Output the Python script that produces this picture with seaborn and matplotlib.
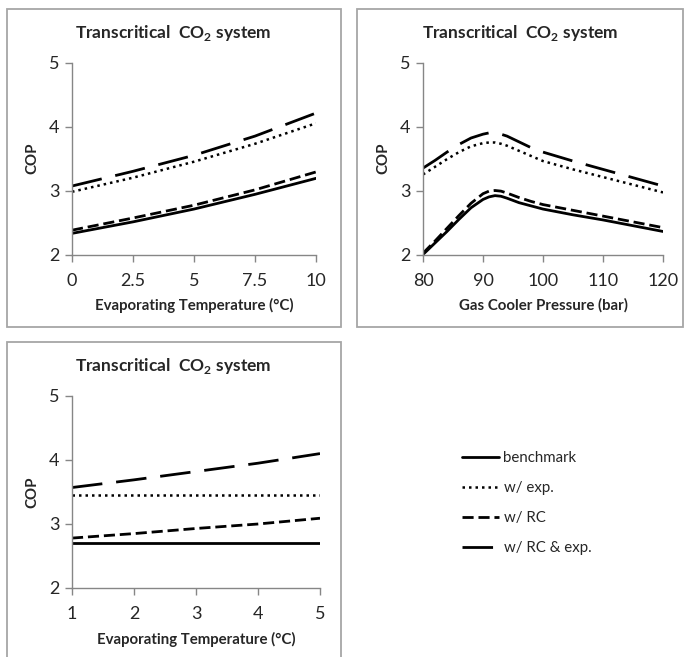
import numpy as np
import pandas as pd
import matplotlib
matplotlib.use("Agg")
import matplotlib.pyplot as plt
import seaborn as sns
from matplotlib.patches import Rectangle

# ---- data ----
series = ["benchmark", "w/ exp.", "w/ RC", "w/ RC & exp."]

evap_t1 = [0, 2.5, 5, 7.5, 10]
p1_benchmark = [2.33, 2.51, 2.71, 2.94, 3.19]
p1_exp = [2.98, 3.20, 3.45, 3.73, 4.05]
p1_rc = [2.38, 2.57, 2.77, 3.01, 3.29]
p1_rc_exp = [3.07, 3.30, 3.55, 3.85, 4.21]

gc_pressure = [80, 82, 84, 86, 88, 90, 91, 92, 93, 94, 96, 98, 100, 105, 110, 115, 120]
p2_benchmark = [2.00, 2.18, 2.36, 2.55, 2.73, 2.86, 2.90, 2.92, 2.91, 2.88, 2.81, 2.76, 2.71, 2.62, 2.54, 2.45, 2.36]
p2_exp = [3.25, 3.37, 3.49, 3.60, 3.69, 3.74, 3.75, 3.75, 3.73, 3.70, 3.62, 3.54, 3.46, 3.33, 3.21, 3.09, 2.97]
p2_rc = [2.02, 2.21, 2.41, 2.61, 2.80, 2.95, 2.99, 3.00, 2.99, 2.96, 2.89, 2.83, 2.78, 2.69, 2.60, 2.51, 2.42]
p2_rc_exp = [3.35, 3.47, 3.60, 3.72, 3.82, 3.88, 3.90, 3.90, 3.88, 3.85, 3.76, 3.67, 3.60, 3.46, 3.33, 3.20, 3.07]

evap_t3 = [1, 2, 3, 4, 5]
p3_benchmark = [2.71, 2.71, 2.71, 2.71, 2.71]
p3_exp = [3.45, 3.45, 3.45, 3.45, 3.45]
p3_rc = [2.78, 2.85, 2.93, 3.00, 3.09]
p3_rc_exp = [3.57, 3.69, 3.82, 3.95, 4.10]

title_text = "Transcritical  CO$_{\\mathbf{2}}$ system"

# ---- style ----
sns.set_theme(style="white")
plt.rcParams["font.family"] = ["Lato", "DejaVu Sans"]
plt.rcParams["mathtext.fontset"] = "custom"
plt.rcParams["mathtext.rm"] = "Lato"
plt.rcParams["mathtext.bf"] = "Lato:bold"

styles = {
    "benchmark": dict(linestyle="-", linewidth=2.0),
    "w/ exp.": dict(linestyle=(0, (1, 1.6)), linewidth=1.8),
    "w/ RC": dict(linestyle=(0, (4, 1.75)), linewidth=2.0),
    "w/ RC & exp.": dict(linestyle=(0, (11, 5)), linewidth=2.0),
}

W, H = 684, 657
fig = plt.figure(figsize=(W / 100, H / 100), dpi=100)

def fx(px):
    return px / W

def fy(py):
    return 1 - py / H

# panel borders and titles (titles centred on each panel box)
border_col = "#a6a6a6"
panels = [((6.5, 9, 340.5, 326.5), 33), ((356.5, 9, 683, 326.5), 33), ((6.5, 341.5, 340.5, 660), 366)]
for (x0, y0, x1, y1), ty in panels:
    fig.patches.append(Rectangle((fx(x0), fy(y1)), fx(x1 - x0), (y1 - y0) / H,
                                 transform=fig.transFigure, fill=False,
                                 edgecolor=border_col, linewidth=1.3))
    fig.text(fx((x0 + x1) / 2), fy(ty), title_text, ha="center", va="center",
             fontsize=12.5, fontweight="bold")

def make_ax(l, r, t, b):
    return fig.add_axes([fx(l), fy(b), fx(r - l), (b - t) / H])

ax1 = make_ax(72, 316, 62.5, 254.5)
ax2 = make_ax(423, 663, 62.5, 254.5)
ax3 = make_ax(72, 320, 396, 588)

def draw(ax, x, ys):
    df = pd.DataFrame({"x": np.tile(x, 4),
                       "COP": np.concatenate(ys),
                       "series": np.repeat(series, len(x))})
    for s in series:
        sub = df[df["series"] == s]
        sns.lineplot(data=sub, x="x", y="COP", ax=ax, color="black",
                     label=s, legend=False, **styles[s])

draw(ax1, evap_t1, [p1_benchmark, p1_exp, p1_rc, p1_rc_exp])
draw(ax2, gc_pressure, [p2_benchmark, p2_exp, p2_rc, p2_rc_exp])
draw(ax3, evap_t3, [p3_benchmark, p3_exp, p3_rc, p3_rc_exp])

def fmt(ax, xlim, xticks, xticklabels, xlabel):
    ax.set_xlim(*xlim)
    ax.set_ylim(2, 5)
    ax.set_xticks(xticks)
    ax.set_xticklabels(xticklabels)
    ax.set_yticks([2, 3, 4, 5])
    ax.set_yticklabels(["2", "3", "4", "5"])
    ax.set_xlabel(xlabel, fontsize=10.8, fontweight="bold", labelpad=7)
    ax.set_ylabel("COP", fontsize=10.8, fontweight="bold", labelpad=7)
    for side in ["top", "right"]:
        ax.spines[side].set_visible(False)
    for side in ["left", "bottom"]:
        ax.spines[side].set_color("#868686")
        ax.spines[side].set_linewidth(1.0)
    ax.tick_params(axis="x", pad=8)
    ax.tick_params(axis="y", pad=4)
    ax.tick_params(axis="both", direction="out", length=5, width=1.0,
                   color="#868686", labelsize=13, left=True, bottom=True)
    ax.grid(False)

fmt(ax1, (0, 10), [0, 2.5, 5, 7.5, 10], ["0", "2.5", "5", "7.5", "10"],
    "Evaporating Temperature (°C)")
fmt(ax2, (80, 120), [80, 90, 100, 110, 120], ["80", "90", "100", "110", "120"],
    "Gas Cooler Pressure (bar)")
fmt(ax3, (1, 5), [1, 2, 3, 4, 5], ["1", "2", "3", "4", "5"],
    "Evaporating Temperature (°C)")

handles, labels = ax3.get_legend_handles_labels()
fig.legend(handles, labels, loc="upper left", bbox_to_anchor=(fx(448), fy(438)),
           frameon=False, fontsize=10.8, handlelength=2.5, handletextpad=0.3,
           labelspacing=1.05)

fig.savefig("out.png", dpi=100)
